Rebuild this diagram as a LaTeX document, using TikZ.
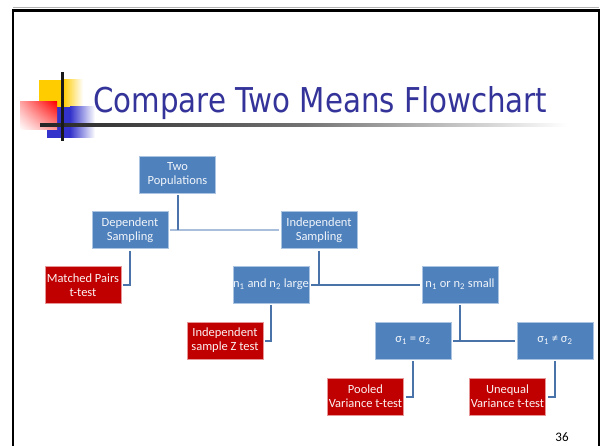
\documentclass[tikz,border=0pt]{standalone}
\usepackage{fontspec}
\setmainfont{Carlito}
\newfontfamily\titlefont{DejaVu Sans}
\usetikzlibrary{positioning,shadings}
\definecolor{boxblue}{RGB}{79,129,189}
\definecolor{boxedge}{RGB}{170,196,226}
\definecolor{boxred}{RGB}{192,0,0}
\definecolor{redge}{RGB}{230,150,150}
\definecolor{conn}{RGB}{74,115,170}
\definecolor{connlight}{RGB}{168,190,218}
\definecolor{titleblue}{RGB}{51,51,153}
\definecolor{decoyellow}{RGB}{255,204,0}
\definecolor{decoblue}{RGB}{51,51,204}
\tikzset{
  bluebox/.style={fill=boxblue, draw=boxedge, line width=0.7pt, minimum width=76pt, minimum height=37pt,
    inner sep=0pt, align=center, text=white!92!boxblue, font=\fontsize{12.5}{13.8}\selectfont},
  redbox/.style={fill=boxred, draw=redge, line width=0.5pt, minimum width=76pt, minimum height=37pt,
    inner sep=0pt, align=center, text=white!95!boxred, font=\fontsize{12.5}{13.8}\selectfont},
  link/.style={draw=conn, line width=2pt},
  linklight/.style={draw=connlight, line width=2pt},
}
\begin{document}
\begin{tikzpicture}[x=1pt,y=-1pt]
\useasboundingbox (0,0) rectangle (602,446);
\fill[white] (0,0) rectangle (602,446);
% slide frame
\draw[gray!60, line width=1pt] (13,8) -- (599,8);
\draw[black, line width=2.6pt] (13,446) -- (13,10.3) -- (599,10.3) -- (599,446);
% decoration
\fill[decoyellow] (39,80) rectangle (63,107);
\shade[left color=decoyellow, right color=white] (63,80) rectangle (83,107);
\fill[decoblue] (47,107) rectangle (70,138);
\shade[left color=decoblue, right color=white] (70,107) rectangle (95,138);
\shade[upper right=red, lower left=white, upper left=red!35, lower right=red!40] (20,102) rectangle (57,130);
\shade[left color=black!85, right color=white, middle color=black!55] (40,124) rectangle (567,126.2);
\fill[black!90] (60.8,72) rectangle (63.6,141);
% title
\node[anchor=base west, inner sep=0pt, text=titleblue] (title) at (93,113)
  {\resizebox{454pt}{26pt}{\titlefont Compare Two Means Flowchart}};
% nodes
\node[bluebox] (tp) at (177.5,174.5) {Two\\Populations};
\node[bluebox] (dep) at (130,230) {Dependent\\Sampling};
\node[bluebox] (ind) at (319,230) {Independent\\Sampling};
\node[redbox] (mp) at (83,285) {Matched Pairs\\t-test};
\node[bluebox] (large) at (271,284.5) {n\textsubscript{1} and n\textsubscript{2} large};
\node[bluebox] (small) at (460,284.5) {n\textsubscript{1} or n\textsubscript{2} small};
\node[redbox] (z) at (225,340.5) {Independent\\sample Z test};
\node[bluebox] (eq) at (413,340.5) {σ\textsubscript{1} = σ\textsubscript{2}};
\node[bluebox] (neq) at (555,340.5) {σ\textsubscript{1} ≠ σ\textsubscript{2}};
\node[redbox] (pooled) at (365.5,396.5) {Pooled\\Variance t-test};
\node[redbox] (unequal) at (507.5,396.5) {Unequal\\Variance t-test};
% connectors
\draw[linklight, shorten <=2pt, shorten >=2pt] (dep.east) -- (ind.west);
\draw[link, shorten <=2pt] (tp.south) -- (tp.south |- dep.east);
\draw[link, shorten <=2pt, shorten >=2pt] (large.east) -- (small.west);
\draw[link, shorten <=2pt] (ind.south) -- (ind.south |- large.east);
\draw[link, shorten <=2pt, shorten >=2pt] (eq.east) -- (neq.west);
\draw[link, shorten <=2pt] (small.south) -- (small.south |- eq.east);
\draw[link, shorten <=2pt, shorten >=2pt] (dep.south) -- (dep.south |- mp.east) -- (mp.east);
\draw[link, shorten <=2pt, shorten >=2pt] (large.south) -- (large.south |- z.east) -- (z.east);
\draw[link, shorten <=2pt, shorten >=2pt] (eq.south) -- (eq.south |- pooled.east) -- (pooled.east);
\draw[link, shorten <=2pt, shorten >=2pt] (neq.south) -- (neq.south |- unequal.east) -- (unequal.east);
% page number
\node[font=\fontsize{13}{14}\selectfont, inner sep=0pt] (pg) at (562,437) {36};
\end{tikzpicture}
\end{document}
